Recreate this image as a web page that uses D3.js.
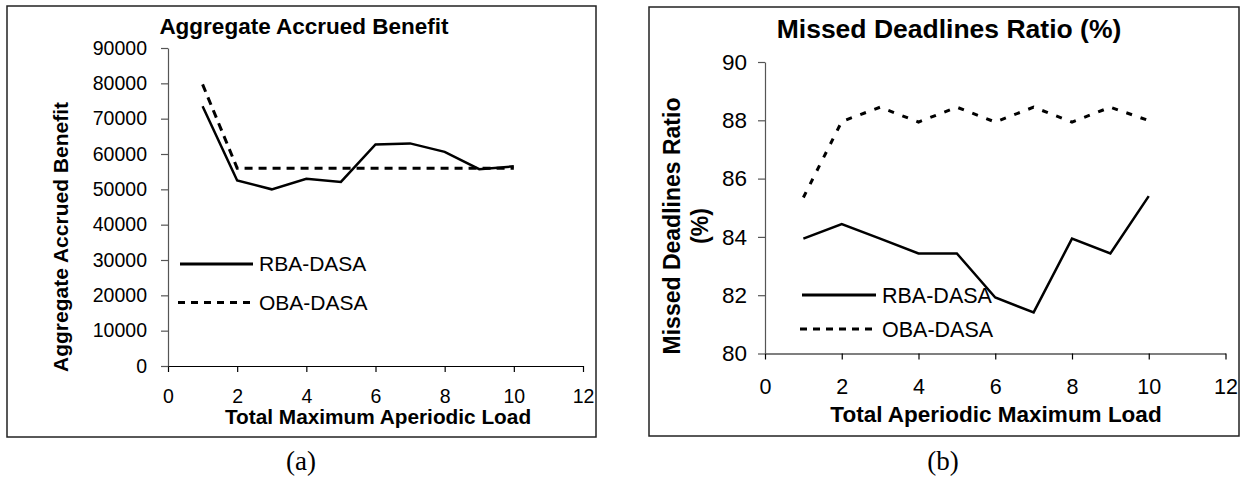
<!DOCTYPE html>
<html>
<head>
<meta charset="utf-8">
<script src="https://cdn.jsdelivr.net/npm/d3@7"></script>
<style>
  body { margin: 0; background: #fff; }
  text { font-family: "Liberation Sans", Arial, sans-serif; fill: #000; }
  .caption { font-family: "Liberation Serif", "Times New Roman", serif; }
</style>
</head>
<body>
<div id="chart"></div>
<script>
const loads = [1, 2, 3, 4, 5, 6, 7, 8, 9, 10];
const xTicks = [0, 2, 4, 6, 8, 10, 12];

// (a) aggregate accrued benefit
const rbaBenefit = [73500, 52500, 50000, 53000, 52100, 62700, 63000, 60600, 55700, 56500];
const obaBenefit = [79700, 56000, 56000, 56000, 56000, 56000, 56000, 56000, 56000, 56000];
const benefitTicks = [0, 10000, 20000, 30000, 40000, 50000, 60000, 70000, 80000, 90000];

// (b) missed deadlines ratio
const rbaMissed = [83.94, 84.44, 83.94, 83.43, 83.43, 81.92, 81.41, 83.94, 83.43, 85.4];
const obaMissed = [85.35, 87.96, 88.45, 87.94, 88.45, 87.94, 88.45, 87.94, 88.45, 87.99];
const missedTicks = [80, 82, 84, 86, 88, 90];

const seriesNames = ['RBA-DASA', 'OBA-DASA'];

const width = 1248;
const height = 485;

const svg = d3.select('#chart')
  .append('svg')
  .attr('width', width)
  .attr('height', height);

function drawPanel(cfg) {
  const g = svg.append('g');

  g.append('rect')
    .attr('x', cfg.frame[0])
    .attr('y', cfg.frame[1])
    .attr('width', cfg.frame[2] - cfg.frame[0])
    .attr('height', cfg.frame[3] - cfg.frame[1])
    .attr('fill', 'none')
    .attr('stroke', '#222')
    .attr('stroke-width', 1.5);

  const x = d3.scaleLinear().domain([0, 12]).range(cfg.xRange);
  const y = d3.scaleLinear().domain(cfg.yDomain).range(cfg.yRange);

  const xAxis = g.append('g')
    .attr('transform', `translate(0,${cfg.yRange[0]})`)
    .call(d3.axisBottom(x).tickValues(xTicks).tickSize(6).tickSizeOuter(0).tickPadding(cfg.xPad));
  xAxis.attr('font-size', null).attr('font-family', null);
  xAxis.select('.domain').attr('stroke', '#000').attr('stroke-width', 1.2);
  xAxis.selectAll('.tick line').attr('stroke', '#000').attr('stroke-width', 1.2);
  xAxis.selectAll('text').style('font-size', cfg.tickFont + 'px').attr('fill', '#000');

  const yAxis = g.append('g')
    .attr('transform', `translate(${cfg.xRange[0]},0)`)
    .call(d3.axisLeft(y).tickValues(cfg.yTicks).tickSize(7).tickSizeOuter(0)
      .tickPadding(cfg.yPad).tickFormat(d3.format('d')));
  yAxis.attr('font-size', null).attr('font-family', null);
  yAxis.select('.domain').attr('stroke', '#555').attr('stroke-width', 1.2);
  yAxis.selectAll('.tick line').attr('stroke', '#555').attr('stroke-width', 1.2);
  yAxis.selectAll('text').style('font-size', cfg.yTickFont + 'px').attr('fill', '#000');

  const line = d3.line()
    .x((d, i) => x(loads[i]))
    .y((d) => y(d));

  g.append('path')
    .datum(cfg.rba)
    .attr('d', line)
    .attr('fill', 'none')
    .attr('stroke', '#000')
    .attr('stroke-width', 2.5);

  g.append('path')
    .datum(cfg.oba)
    .attr('d', line)
    .attr('fill', 'none')
    .attr('stroke', '#000')
    .attr('stroke-width', 3)
    .attr('stroke-dasharray', cfg.dash);

  // title
  g.append('text')
    .attr('x', cfg.title.x)
    .attr('y', cfg.title.y)
    .attr('text-anchor', 'middle')
    .attr('font-weight', 'bold')
    .style('font-size', cfg.title.size + 'px')
    .text(cfg.title.text);

  // x axis title
  g.append('text')
    .attr('x', cfg.xTitle.x)
    .attr('y', cfg.xTitle.y)
    .attr('text-anchor', 'middle')
    .attr('font-weight', 'bold')
    .style('font-size', cfg.xTitle.size + 'px')
    .text(cfg.xTitle.text);

  // y axis title, one text per line
  cfg.yTitle.lines.forEach((t, i) => {
    g.append('text')
      .attr('transform', `translate(${cfg.yTitle.x[i]},${cfg.yTitle.y}) rotate(-90)`)
      .attr('text-anchor', 'middle')
      .attr('font-weight', 'bold')
      .style('font-size', cfg.yTitle.size + 'px')
      .text(t);
  });

  // legend
  const legend = g.append('g').attr('class', 'legend');
  seriesNames.forEach((name, i) => {
    const ly = cfg.legend.y[i];
    legend.append('line')
      .attr('x1', cfg.legend.x1[i])
      .attr('x2', cfg.legend.x2)
      .attr('y1', ly)
      .attr('y2', ly)
      .attr('stroke', '#000')
      .attr('stroke-width', 3)
      .attr('stroke-dasharray', i === 0 ? null : '7,6');
    legend.append('text')
      .attr('x', cfg.legend.tx)
      .attr('y', ly)
      .attr('dy', '0.35em')
      .style('font-size', cfg.legend.size + 'px')
      .text(name);
  });

  svg.append('text')
    .attr('class', 'caption')
    .attr('x', cfg.caption.x)
    .attr('y', 470)
    .attr('text-anchor', 'middle')
    .style('font-size', '27px')
    .text(cfg.caption.text);
}

drawPanel({
  frame: [7, 6, 596, 437],
  xRange: [168, 583],
  yDomain: [0, 90000],
  yRange: [366, 48],
  yTicks: benefitTicks,
  rba: rbaBenefit,
  oba: obaBenefit,
  dash: '8,6',
  xPad: 17,
  yPad: 14,
  tickFont: 19.5,
  yTickFont: 19.5,
  title: { text: 'Aggregate Accrued Benefit', x: 304, y: 34, size: 22.5 },
  xTitle: { text: 'Total Maximum Aperiodic Load', x: 378, y: 424, size: 20.8 },
  yTitle: { lines: ['Aggregate Accrued Benefit'], x: [68], y: 237, size: 21 },
  legend: { x1: [180, 178], x2: 253, y: [264, 302.5], tx: 259, size: 21 },
  caption: { text: '(a)', x: 301 }
});

drawPanel({
  frame: [649, 7, 1239, 436],
  xRange: [765, 1225.5],
  yDomain: [80, 90],
  yRange: [353.5, 62],
  yTicks: missedTicks,
  rba: rbaMissed,
  oba: obaMissed,
  dash: '6,9',
  xPad: 19,
  yPad: 11,
  tickFont: 21.5,
  yTickFont: 22.5,
  title: { text: 'Missed Deadlines Ratio (%)', x: 949, y: 38, size: 26.5 },
  xTitle: { text: 'Total Aperiodic Maximum Load', x: 996, y: 422, size: 22.5 },
  yTitle: { lines: ['Missed Deadlines Ratio', '(%)'], x: [679.5, 707.5], y: 226, size: 23 },
  legend: { x1: [802, 800], x2: 876, y: [295, 329], tx: 882, size: 21.5 },
  caption: { text: '(b)', x: 943 }
});
</script>
</body>
</html>
